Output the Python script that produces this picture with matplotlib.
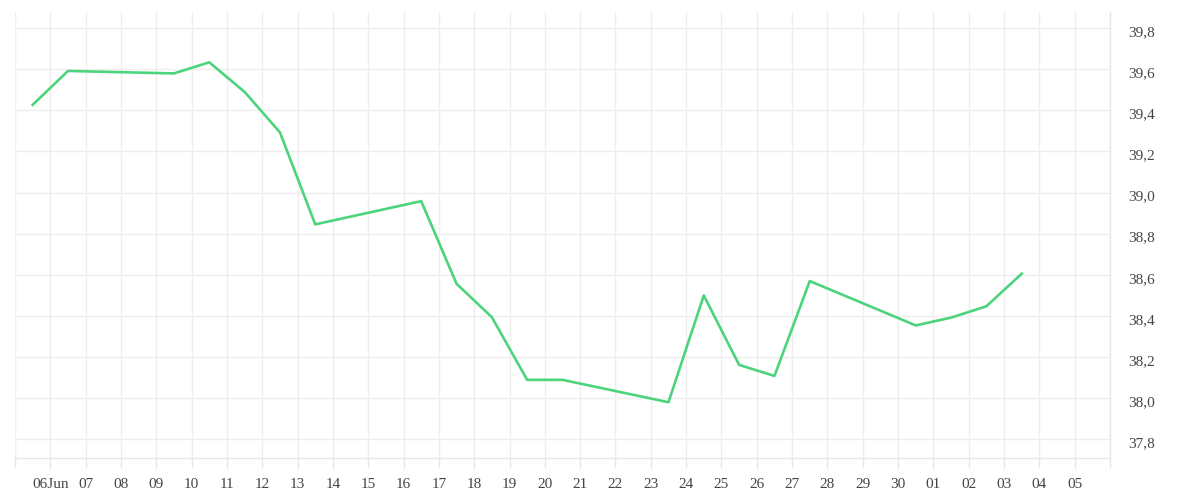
import datetime as dt
import matplotlib
matplotlib.use("Agg")
import matplotlib.pyplot as plt
import matplotlib.transforms as mtransforms

# trading days (points drawn at noon of each day)
days = ["2021-06-05", "2021-06-06", "2021-06-09", "2021-06-10", "2021-06-11",
        "2021-06-12", "2021-06-13", "2021-06-16", "2021-06-17", "2021-06-18",
        "2021-06-19", "2021-06-20", "2021-06-23", "2021-06-24", "2021-06-25",
        "2021-06-26", "2021-06-27", "2021-06-30", "2021-07-01", "2021-07-02",
        "2021-07-03"]
values = [39.427, 39.592, 39.580, 39.634, 39.490,
          39.293, 38.845, 38.958, 38.556, 38.393,
          38.088, 38.088, 37.979, 38.499, 38.161,
          38.107, 38.569, 38.353, 38.391, 38.446,
          38.605]

x_labels = ["", "06Jun", "07", "08", "09", "10", "11", "12", "13", "14", "15",
            "16", "17", "18", "19", "20", "21", "22", "23", "24", "25", "26",
            "27", "28", "29", "30", "01", "02", "03", "04", "05", ""]
y_ticks = [37.8, 38.0, 38.2, 38.4, 38.6, 38.8, 39.0, 39.2, 39.4, 39.6, 39.8]

plt.rcParams['font.family'] = ['Liberation Serif', 'DejaVu Serif']

start = dt.datetime(2021, 6, 5)
x = [dt.datetime.strptime(d, "%Y-%m-%d") + dt.timedelta(hours=12) for d in days]
tick_dates = [start + dt.timedelta(days=i) for i in range(len(x_labels))]

fig = plt.figure(figsize=(12, 5), dpi=100)
ax = fig.add_axes([0.0125, 0.084, 0.9125, 0.892])

ax.plot(x, values, color='#4cd47c', linewidth=1.9)

ax.set_xlim(tick_dates[0], tick_dates[-1])
ax.set_ylim(37.7075, 39.879)

ax.set_xticks(tick_dates)
ax.set_xticklabels(x_labels)
ax.set_yticks(y_ticks)
ax.set_yticklabels([f"{v:.1f}".replace(".", ",") for v in y_ticks])

ax.yaxis.tick_right()
ax.grid(True, color='#eeeeee', linewidth=1)
ax.set_axisbelow(True)

for s in ['top', 'left']:
    ax.spines[s].set_visible(False)
for s in ['bottom', 'right']:
    ax.spines[s].set_color('#e6e6e6')
    ax.spines[s].set_linewidth(1)

ax.tick_params(axis='x', length=7.5, width=1, color='#e6e6e6', pad=7,
               labelsize=11, labelcolor='#444444')
ax.tick_params(axis='y', length=0, pad=13, labelsize=11, labelcolor='#444444')

# y labels sit a few px under their gridline
shift = mtransforms.ScaledTranslation(0, -3 / 100, fig.dpi_scale_trans)
for lab in ax.get_yticklabels():
    lab.set_transform(lab.get_transform() + shift)

fig.savefig("out.png", dpi=100)
